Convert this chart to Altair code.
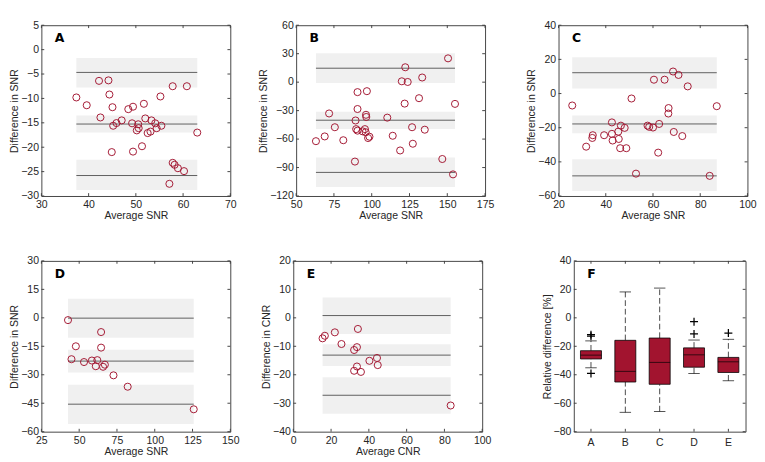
import altair as alt
import pandas as pd

# ---------------- data ----------------
# Panel A
a_avg = [37.4, 39.6, 42.2, 42.5, 44.2, 44.4, 45.05, 44.9, 45.2, 45.9, 47.0, 48.4, 49.4, 49.2, 49.4,
         50.2, 50.5, 50.6, 51.3, 51.7, 52.0, 52.5, 53.1, 53.3, 54.1, 54.4, 55.2, 55.4, 57.1, 57.8,
         57.8, 58.2, 58.9, 60.2, 60.8, 63.0]
a_diff = [-9.8, -11.4, -6.4, -13.9, -6.3, -9.2, -11.8, -21.0, -15.6, -15.05, -14.5, -12.2, -11.7, -15.1, -20.9,
          -16.55, -15.3, -16.1, -19.8, -11.1, -14.1, -17.1, -16.8, -14.5, -15.1, -16.1, -9.6, -15.6, -27.5, -7.5,
          -23.2, -23.6, -24.3, -24.9, -7.5, -17.0]
a_lines = [-4.67, -15.25, -25.8]
a_lo = [-7.74, -17.0, -28.77]
a_hi = [-1.73, -13.5, -22.56]

# Panel B
b_avg = [63.1, 68.9, 71.8, 75.6, 81.2, 88.9, 89.3, 89.7, 90.6, 90.6, 90.6, 93.9, 95.5, 96.0, 96.2,
         96.4, 96.8, 97.6, 98.5, 110.3, 113.9, 118.8, 119.9, 121.8, 122.2, 123.8, 126.7, 127.2, 131.3,
         133.4, 135.1, 146.7, 150.5, 153.8, 155.1]
b_diff = [-62.2, -57.2, -33.0, -47.5, -61.2, -83.7, -40.4, -49.5, -10.5, -28.3, -51.1, -51.8, -49.5, -52.8, -34.4,
          -36.7, -9.5, -58.9, -57.5, -37.4, -56.5, -72.0, 0.9, -22.6, 15.7, 0.2, -47.5, -64.9, -16.9,
          4.9, -50.1, -81.0, 25.1, -97.2, -22.9]
b_lines = [14.7, -40.1, -95.1]
b_lo = [-0.8, -49.5, -110.6]
b_hi = [30.45, -31.3, -79.4]

# Panel C
c_avg = [25.8, 31.7, 34.3, 34.5, 39.3, 42.6, 42.6, 42.9, 45.3, 45.5, 46.1, 46.4, 48.0, 48.7, 50.9, 52.8,
         57.7, 58.4, 60.0, 60.4, 62.2, 62.6, 64.9, 66.6, 66.5, 68.5, 68.8, 70.8, 72.4, 74.7, 84.0, 87.0]
c_diff = [-7.0, -31.1, -26.0, -24.4, -24.4, -16.9, -23.6, -27.5, -22.3, -26.6, -32.0, -18.8, -20.1, -32.0, -2.9, -46.9,
          -18.8, -19.5, -19.9, 8.1, -34.6, -17.8, 8.1, -8.5, -11.7, 12.9, -22.5, 10.9, -24.9, 4.2, -48.2, -7.4]
c_lines = [12.2, -17.8, -48.2]
c_lo = [2.9, -23.2, -57.0]
c_hi = [21.2, -12.8, -38.5]

# Panel D
d_avg = [42.6, 47.8, 44.9, 53.2, 58.4, 62.0, 61.0, 64.5, 64.5, 65.8, 67.0, 72.7, 82.1, 125.8]
d_diff = [-1.2, -15.0, -21.8, -23.3, -22.5, -22.3, -25.5, -7.5, -15.7, -25.8, -24.7, -30.3, -36.3, -48.2]
d_lines = [-0.17, -22.8, -45.5]
d_lo = [-10.5, -28.8, -56.0]
d_hi = [10.0, -16.8, -35.2]

# Panel E
e_avg = [15.5, 16.7, 22.0, 25.5, 32.2, 33.7, 34.2, 32.2, 33.7, 35.8, 40.3, 44.3, 44.7, 83.3]
e_diff = [-7.2, -6.3, -5.1, -9.2, -11.3, -10.3, -3.9, -18.6, -17.1, -19.0, -15.1, -14.1, -16.6, -30.8]
e_lines = [0.8, -13.1, -27.2]
e_lo = [-5.7, -16.9, -33.7]
e_hi = [7.1, -9.3, -20.9]

# Panel F (box plot statistics)
f_cats = ["A", "B", "C", "D", "E"]
f_q1 = [-28.9, -45.1, -46.7, -34.7, -38.4]
f_q3 = [-23.1, -15.8, -14.2, -21.1, -27.8]
f_med = [-26.2, -37.6, -31.3, -26.0, -30.9]
f_wlo = [-35.1, -66.4, -65.8, -39.1, -44.2]
f_whi = [-16.2, 18.2, 20.9, -15.6, -15.1]
f_out_cat = ["A", "A", "A", "D", "D", "E"]
f_out_val = [-11.8, -12.9, -39.1, -2.7, -11.3, -10.7]
f_yticks = [-80, -60, -40, -20, 0, 20, 40]

RED = "#A2142F"
FRAME = "#404040"
W, H = 198, 179
TL = 3  # inward tick length in px


def inward_ticks(xfield_enc, yfield_enc, xvals, yvals, w, h):
    """Small inward tick marks on all four sides, placed at the axis tick values."""
    xt = pd.DataFrame({"v": xvals})
    yt = pd.DataFrame({"v": yvals})
    layers = []
    for y0, y1 in [(h, h - TL), (0, TL)]:
        layers.append(alt.Chart(xt).mark_rule(color=FRAME, strokeWidth=1).encode(
            x=xfield_enc("v"), y=alt.value(y0), y2=alt.value(y1)))
    for x0, x1 in [(0, TL), (w, w - TL)]:
        layers.append(alt.Chart(yt).mark_rule(color=FRAME, strokeWidth=1).encode(
            y=yfield_enc("v"), x=alt.value(x0), x2=alt.value(x1)))
    return layers


def ba_panel(avg, diff, lines, lo, hi, xdom, xticks, ydom, yticks, xtitle, ytitle, letter):
    pts = pd.DataFrame({"avg": avg, "diff": diff})
    xmin, xmax = min(avg), max(avg)
    bands = pd.DataFrame({"x1": [xmin] * 3, "x2": [xmax] * 3, "lo": lo, "hi": hi, "line": lines})
    xs = alt.Scale(domain=xdom, nice=False, zero=False)
    ys = alt.Scale(domain=ydom, nice=False, zero=False)
    xax = alt.Axis(values=xticks, title=xtitle, labelFlush=False)
    yax = alt.Axis(values=yticks, title=ytitle)

    def X(f):
        return alt.X(f + ":Q", scale=xs, axis=xax)

    def Y(f):
        return alt.Y(f + ":Q", scale=ys, axis=yax)

    rect = alt.Chart(bands).mark_rect(color="#f0f0f0").encode(
        x=X("x1"), x2="x2:Q", y=Y("lo"), y2="hi:Q")
    rule = alt.Chart(bands).mark_rule(color="#5a5a5a", strokeWidth=1).encode(
        x=X("x1"), x2="x2:Q", y=Y("line"))
    points = alt.Chart(pts).mark_point(shape="circle", filled=False, color=RED, size=55,
                                       strokeWidth=1, opacity=1).encode(x=X("avg"), y=Y("diff"))
    lab = alt.Chart(pd.DataFrame({"t": [letter]})).mark_text(
        font="DejaVu Sans", fontWeight="bold", fontSize=13, align="left",
        baseline="alphabetic", color="black").encode(
        text="t:N", x=alt.value(14), y=alt.value(18))
    ticks = inward_ticks(X, Y, xticks, yticks, W, H)
    return alt.layer(rect, rule, *ticks, points, lab).properties(width=W, height=H)


pA = ba_panel(a_avg, a_diff, a_lines, a_lo, a_hi, [30, 70], [30, 40, 50, 60, 70],
              [-30, 5], [-30, -25, -20, -15, -10, -5, 0, 5], "Average SNR", "Difference in SNR", "A")
pB = ba_panel(b_avg, b_diff, b_lines, b_lo, b_hi, [50, 175], [50, 75, 100, 125, 150, 175],
              [-120, 60], [-120, -90, -60, -30, 0, 30, 60], "Average SNR", "Difference in SNR", "B")
pC = ba_panel(c_avg, c_diff, c_lines, c_lo, c_hi, [20, 100], [20, 40, 60, 80, 100],
              [-60, 40], [-60, -40, -20, 0, 20, 40], "Average SNR", "Difference in SNR", "C")
pD = ba_panel(d_avg, d_diff, d_lines, d_lo, d_hi, [25, 150], [25, 50, 75, 100, 125, 150],
              [-60, 30], [-60, -45, -30, -15, 0, 15, 30], "Average SNR", "Difference in SNR", "D")
pE = ba_panel(e_avg, e_diff, e_lines, e_lo, e_hi, [0, 100], [0, 20, 40, 60, 80, 100],
              [-40, 20], [-40, -30, -20, -10, 0, 10, 20], "Average CNR", "Difference in CNR", "E")

# Panel F
FW = 180
boxes = pd.DataFrame({"cat": f_cats, "q1": f_q1, "q3": f_q3, "med": f_med, "wlo": f_wlo, "whi": f_whi})
outs = pd.DataFrame({"cat": f_out_cat, "val": f_out_val})
fxs = alt.Scale(domain=f_cats, paddingInner=0, paddingOuter=0)
fxax = alt.Axis(title=None, labelAngle=0, labelPadding=5)
fys = alt.Scale(domain=[-80, 40], nice=False, zero=False)
fyax = alt.Axis(values=f_yticks, title="Relative difference [%]")


def FX(f):
    return alt.X(f + ":N", scale=fxs, axis=fxax)


def FY(f):
    return alt.Y(f + ":Q", scale=fys, axis=fyax)


fb = alt.Chart(boxes)
w_up = fb.mark_rule(color="#444444", strokeWidth=1, strokeDash=[6, 3]).encode(
    x=FX("cat"), y=FY("q3"), y2="whi:Q")
w_lo = fb.mark_rule(color="#444444", strokeWidth=1, strokeDash=[6, 3]).encode(
    x=FX("cat"), y=FY("wlo"), y2="q1:Q")
cap_up = fb.mark_tick(color="black", size=12, thickness=1, orient="horizontal").encode(
    x=FX("cat"), y=FY("whi"))
cap_lo = fb.mark_tick(color="black", size=12, thickness=1, orient="horizontal").encode(
    x=FX("cat"), y=FY("wlo"))
box = fb.mark_bar(color=RED, stroke="black", strokeWidth=0.8, size=22).encode(
    x=FX("cat"), y=FY("q1"), y2="q3:Q")
med = fb.mark_tick(color="black", size=22, thickness=1, orient="horizontal").encode(
    x=FX("cat"), y=FY("med"))
outl = alt.Chart(outs).mark_point(shape="M-1,0H1M0,-1V1", filled=False, color="black",
                                  size=70, strokeWidth=1.3, opacity=1).encode(
    x=FX("cat"), y=FY("val"))
flab = alt.Chart(pd.DataFrame({"t": ["F"]})).mark_text(
    font="DejaVu Sans", fontWeight="bold", fontSize=13, align="left",
    baseline="alphabetic", color="black").encode(text="t:N", x=alt.value(14), y=alt.value(18))
fticks = inward_ticks(FX, FY, f_cats, f_yticks, FW, H)
pF = alt.layer(*fticks, w_up, w_lo, cap_up, cap_lo, box, med, outl, flab).properties(width=FW, height=H)

row1 = alt.hconcat(alt.hconcat(pA, pB, spacing=21), pC, spacing=32)
row2 = alt.hconcat(alt.hconcat(pD, pE, spacing=21), pF, spacing=51)
chart = alt.vconcat(row1, row2, spacing=34).properties(
    padding={"left": 0, "top": 0, "right": 0, "bottom": 0}
).configure(font="Liberation Sans").configure_view(
    stroke=FRAME, strokeWidth=1
).configure_axis(
    grid=False, domain=False, ticks=False, labelFontSize=11, titleFontSize=11,
    titleFontWeight="normal", labelColor="#262626", titleColor="#262626",
    labelPadding=3, titlePadding=1, labelFont="Liberation Sans", titleFont="Liberation Sans"
)

chart.save("out.html", embed_options={"renderer": "svg", "actions": False})
